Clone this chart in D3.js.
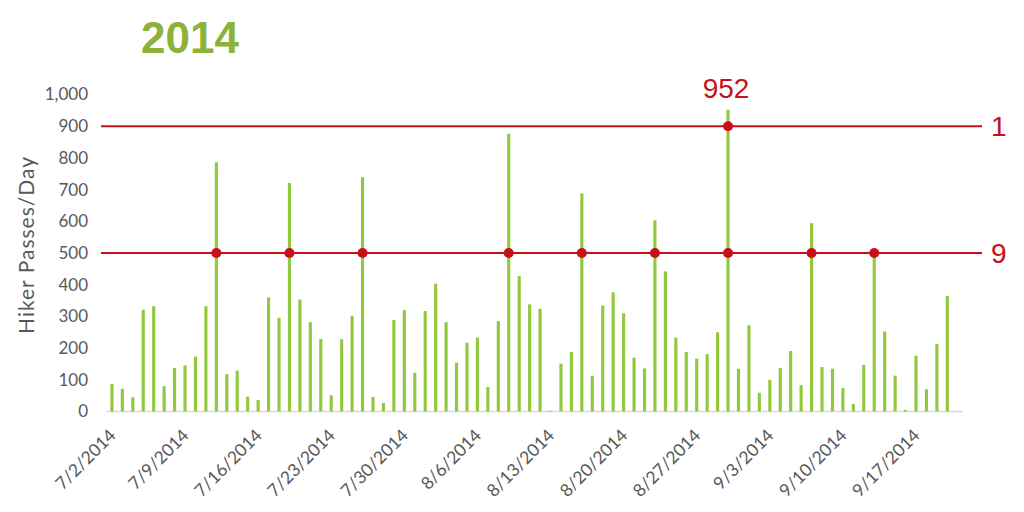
<!DOCTYPE html>
<html>
<head>
<meta charset="utf-8">
<script src="https://cdn.jsdelivr.net/npm/d3@7"></script>
<style>
  html, body { margin: 0; padding: 0; background: #ffffff; }
  svg { display: block; }
</style>
</head>
<body>
<svg id="chart" width="1024" height="512"></svg>
<script>
// ---- data ----
const title = "2014";
const yAxisTitle = "Hiker Passes/Day";
const startDate = new Date(2014, 6, 2);   // 7/2/2014
const endDate = new Date(2014, 8, 22);    // exclusive -> last slot 9/21/2014
const passesPerDay = [
  87, 72, 45, 321, 332, 80, 137, 145, 173, 332,
  786, 118, 129, 47, 36, 360, 296, 721, 353, 282,
  229, 51, 228, 302, 739, 46, 27, 289, 320, 122,
  317, 403, 282, 154, 217, 233, 77, 285, 876, 427,
  338, 324, 2, 151, 188, 688, 113, 334, 376, 310,
  170, 136, 603, 442, 233, 188, 167, 181, 250, 952,
  135, 272, 59, 100, 137, 191, 83, 594, 140, 135,
  74, 24, 147, 500, 252, 113, 5, 176, 70, 213, 364
];
const xTickLabels = ["7/2/2014", "7/9/2014", "7/16/2014", "7/23/2014", "7/30/2014", "8/6/2014",
  "8/13/2014", "8/20/2014", "8/27/2014", "9/3/2014", "9/10/2014", "9/17/2014"];
const yTickValues = [0, 100, 200, 300, 400, 500, 600, 700, 800, 900, 1000];
const thresholds = [900, 500];

// ---- setup ----
const fmt = d3.timeFormat("%-m/%-d/%Y");
const categories = d3.timeDay.range(startDate, endDate).map(fmt);
const data = passesPerDay.map((v, i) => ({ day: categories[i], value: v }));

const svg = d3.select("#chart");
const green = "#92c83e";
const red = "#c8101a";
const gray = "#595959";

const x = d3.scaleBand().domain(categories).range([106.7, 963]).paddingInner(0.7).paddingOuter(0.35);
const y = d3.scaleLinear().domain([0, 1000]).range([411.5, 94.5]);

// title
svg.append("text")
  .attr("x", 141).attr("y", 53)
  .attr("font-family", "Liberation Sans, Arial, sans-serif")
  .attr("font-weight", "bold")
  .attr("font-size", 44)
  .attr("fill", "#8db23a")
  .text(title);

// y axis
const yAxis = svg.append("g")
  .attr("transform", "translate(90,0)")
  .call(d3.axisLeft(y).tickValues(yTickValues).tickSize(0).tickPadding(2).tickFormat(d3.format(",")));
yAxis.select(".domain").remove();
yAxis.selectAll("text")
  .attr("font-family", "Lato, sans-serif")
  .attr("font-size", 17)
  .attr("fill", gray);

// y axis title
svg.append("text")
  .attr("transform", "translate(34,245) rotate(-90)")
  .attr("text-anchor", "middle")
  .attr("font-family", "Lato, sans-serif")
  .attr("font-size", 21)
  .attr("letter-spacing", 1)
  .attr("fill", gray)
  .text(yAxisTitle);

// baseline
svg.append("line")
  .attr("x1", x.range()[0]).attr("x2", x.range()[1])
  .attr("y1", y(0)).attr("y2", y(0))
  .attr("stroke", "#d9d9d9").attr("stroke-width", 1.5);

// x axis labels
const xAxis = svg.append("g")
  .attr("transform", `translate(0,${y(0)})`)
  .call(d3.axisBottom(x).tickValues(xTickLabels).tickSize(0).tickPadding(0));
xAxis.select(".domain").remove();
xAxis.selectAll("text")
  .attr("font-family", "Lato, sans-serif")
  .attr("font-size", 17.5)
  .attr("fill", gray)
  .attr("text-anchor", "end")
  .attr("dy", 0)
  .attr("transform", "translate(5,25) rotate(-45)");

// bars
svg.append("g").selectAll("rect")
  .data(data)
  .join("rect")
  .attr("x", d => x(d.day))
  .attr("width", x.bandwidth())
  .attr("y", d => y(d.value))
  .attr("height", d => y(0) - y(d.value))
  .attr("fill", green);

// threshold lines, dots, counts
thresholds.forEach(t => {
  const g = svg.append("g");
  g.append("line")
    .attr("x1", 101).attr("x2", 982)
    .attr("y1", y(t)).attr("y2", y(t))
    .attr("stroke", red).attr("stroke-width", 2);
  const over = data.filter(d => d.value >= t);
  g.selectAll("circle")
    .data(over)
    .join("circle")
    .attr("cx", d => x(d.day) + x.bandwidth() / 2)
    .attr("cy", y(t))
    .attr("r", 5)
    .attr("fill", red);
  g.append("text")
    .attr("x", 991).attr("y", y(t) + 10)
    .attr("font-family", "Liberation Sans, Arial, sans-serif")
    .attr("font-size", 28)
    .attr("fill", red)
    .text(over.length);
});

// max label
const maxD = data.reduce((a, b) => (b.value > a.value ? b : a));
svg.append("text")
  .attr("x", x(maxD.day) + x.bandwidth() / 2 - 2)
  .attr("y", 98)
  .attr("text-anchor", "middle")
  .attr("font-family", "Liberation Sans, Arial, sans-serif")
  .attr("font-size", 28)
  .attr("fill", red)
  .text(maxD.value);
</script>
</body>
</html>
